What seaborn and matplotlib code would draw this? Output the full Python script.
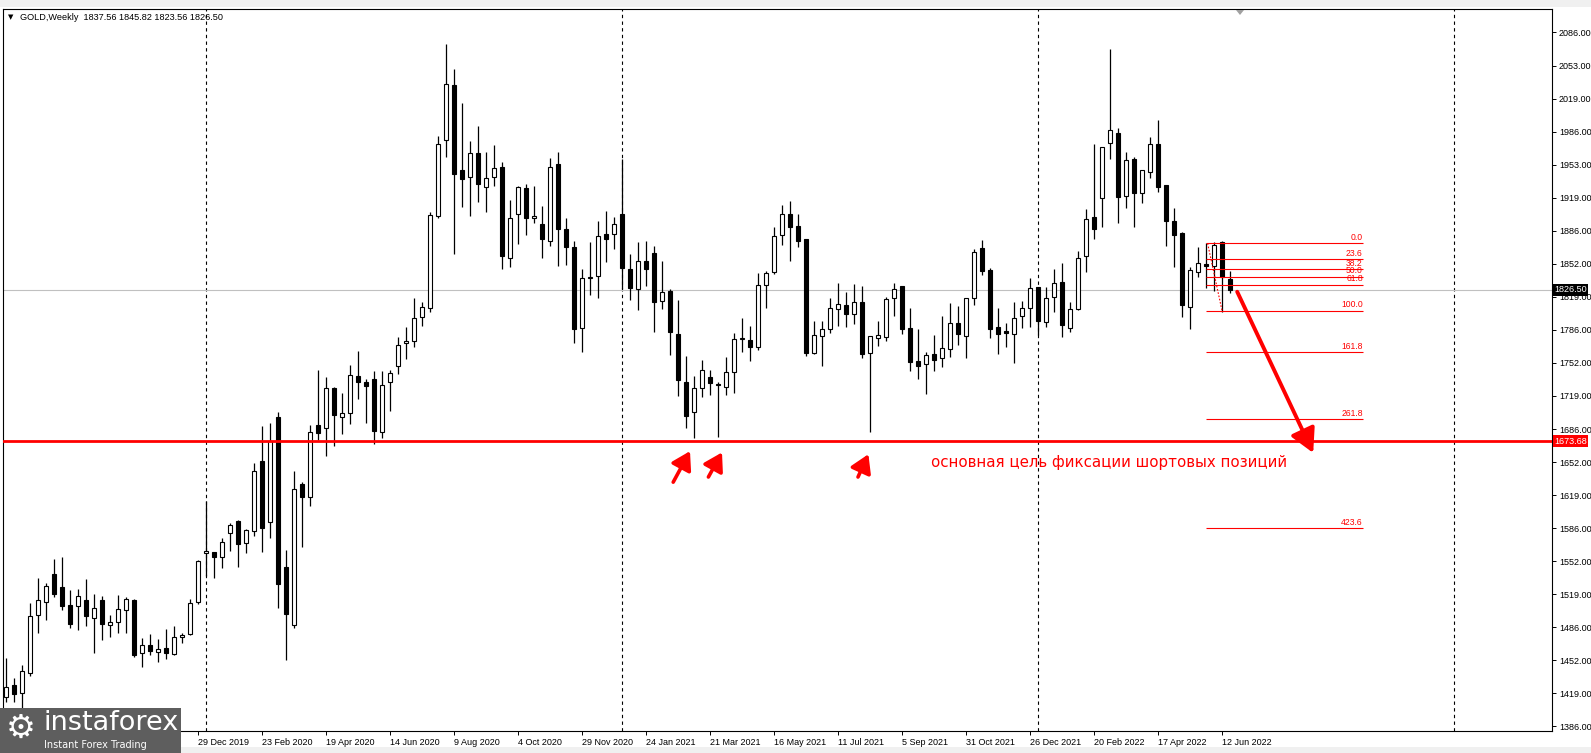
import numpy as np
import pandas as pd
import matplotlib
matplotlib.use("Agg")
import matplotlib.pyplot as plt
from matplotlib.patches import Rectangle, Polygon
import seaborn as sns

# GOLD weekly candles, first bar = week of 14 Jul 2019, last = 19 Jun 2022
opens = [1415.5, 1428, 1419.5, 1440, 1498, 1512, 1540, 1527, 1508.6, 1507.6,
         1514, 1495, 1513.6, 1488, 1491.7, 1503, 1513.6, 1460, 1468, 1461,
         1465, 1459.5, 1476, 1479, 1512, 1560.7, 1561.7, 1557.3, 1581, 1593.3,
         1571.4, 1583, 1654, 1592, 1698.5, 1547, 1488, 1630.6, 1617, 1690,
         1687, 1727, 1698, 1702, 1740, 1733.5, 1736, 1683, 1733, 1750,
         1773, 1775, 1799.4, 1808.4, 1901, 1978, 2033, 1947.3, 1940, 1964,
         1929.8, 1940, 1950, 1859, 1902.6, 1928.8, 1899, 1892.8, 1876, 1953,
         1887.5, 1869.3, 1787.6, 1838, 1840, 1882.7, 1882.4, 1903, 1847.3, 1827,
         1855, 1863.3, 1815.2, 1825.3, 1782, 1733.5, 1703, 1727, 1738, 1731.5,
         1728, 1743.3, 1776.5, 1775.9, 1768.5, 1831.3, 1844, 1881.4, 1902.9, 1890.8,
         1877.7, 1763, 1780.2, 1786.6, 1806.7, 1811, 1801.7, 1813.8, 1763, 1778.2,
         1779, 1817.8, 1830.3, 1788.2, 1754.6, 1751.3, 1761.4, 1757.3, 1767, 1793,
         1780, 1817.8, 1868.6, 1846.4, 1789, 1784.5, 1782.2, 1800, 1807.8, 1829,
         1794.3, 1818.9, 1834, 1787.6, 1806.8, 1860.9, 1899.5, 1919.4, 1974.2, 1984.3,
         1921.4, 1958.4, 1923.7, 1945.6, 1973.2, 1932, 1895.8, 1884, 1809.4, 1844.7,
         1852, 1850.8, 1874.3, 1837.56]
highs = [1455, 1435, 1448, 1511, 1536, 1531, 1555, 1557, 1524, 1525,
         1535, 1520, 1517.6, 1498.5, 1518.7, 1517, 1515, 1475, 1479, 1474,
         1484, 1487, 1480.6, 1515, 1554, 1613, 1562.4, 1576, 1591.6, 1594.3,
         1585, 1651.5, 1689.5, 1692, 1703, 1564, 1644, 1633, 1690, 1746,
         1738, 1728, 1722, 1751, 1765, 1736, 1745, 1745, 1746, 1779,
         1789, 1818, 1814.5, 1905, 1982, 2074.4, 2049, 2015, 1976.5, 1991.7,
         1965.8, 1972.5, 1955, 1917, 1931, 1933, 1931.5, 1911, 1959, 1965,
         1898.5, 1875.7, 1847, 1875, 1896, 1906, 1900, 1958, 1863, 1875,
         1875.7, 1871, 1855.5, 1827, 1816, 1759.7, 1739.6, 1755.7, 1745.6, 1733,
         1758.4, 1783, 1797.7, 1790, 1843, 1845.5, 1889.5, 1912, 1916, 1902.9,
         1878, 1795, 1795, 1818.5, 1833, 1824, 1832, 1830.6, 1779.8, 1795,
         1819.5, 1833.6, 1830.6, 1808.4, 1786.9, 1763.4, 1780.9, 1800, 1812.8, 1810,
         1817.8, 1868, 1876.7, 1848, 1808.4, 1792.6, 1813.8, 1815, 1838, 1829.6,
         1829.6, 1847, 1853.8, 1814.5, 1866, 1907.6, 1973.5, 1970.1, 2069, 1989.3,
         1965, 1960, 1947.3, 1980.2, 1997.7, 1932, 1908.6, 1885, 1849.8, 1870,
         1873.3, 1875, 1875.7, 1845.82]
lows = [1411, 1411, 1400, 1437, 1480, 1493, 1517, 1503, 1485, 1483,
        1487, 1460, 1473, 1476.6, 1480.7, 1480.7, 1456.5, 1445.7, 1458, 1451,
        1454, 1458, 1470.6, 1478, 1510, 1538, 1535.5, 1545.6, 1563.4, 1547,
        1561.4, 1578, 1562.4, 1576, 1505, 1453, 1485, 1567.5, 1608, 1675,
        1659, 1669, 1681, 1691, 1716, 1692.5, 1671, 1677, 1704, 1742,
        1757, 1769, 1790, 1804.4, 1899, 1960, 1863, 1910, 1901, 1915.4,
        1905.3, 1931.5, 1847.5, 1849, 1872.3, 1881.7, 1893.5, 1859, 1871, 1850,
        1851.5, 1773, 1764, 1821, 1818.5, 1854, 1868, 1827, 1816, 1806.5,
        1830.3, 1784.3, 1806.8, 1760.8, 1719.4, 1686.8, 1676.7, 1718.7, 1720.4, 1677.7,
        1720.4, 1722.7, 1763.4, 1755, 1765.8, 1807.8, 1842, 1871.6, 1855, 1869.3,
        1760, 1762, 1750, 1782.5, 1790, 1789.3, 1792, 1758, 1682.7, 1770,
        1775, 1800, 1781.5, 1744.5, 1736.5, 1721, 1744.5, 1749, 1759, 1770.8,
        1758, 1811, 1841.4, 1778, 1761.4, 1769, 1752.3, 1788, 1789.3, 1781,
        1789.3, 1804.4, 1779.2, 1784.2, 1806, 1844, 1877.4, 1890, 1958, 1894,
        1909.3, 1889.5, 1914.3, 1938.9, 1925.4, 1871, 1849.8, 1798.7, 1786.6, 1839.7,
        1828, 1825, 1804.4, 1823.56]
closes = [1425.6, 1418.5, 1442, 1497, 1513.6, 1527.6, 1520, 1507, 1489, 1517.6,
          1497, 1505, 1489, 1491, 1504, 1514.6, 1458, 1468, 1462, 1464,
          1460.5, 1476, 1478, 1511, 1553, 1563, 1557.3, 1571.8, 1589, 1570,
          1584, 1643.7, 1586, 1674, 1529.5, 1499, 1626, 1617, 1683, 1682.4,
          1727, 1700, 1702, 1741, 1733, 1729, 1684, 1730, 1743, 1770.5,
          1775, 1798, 1809.5, 1902, 1974, 2033.7, 1943, 1938.5, 1964, 1932.8,
          1939, 1949, 1861, 1898.5, 1929.8, 1898.5, 1901, 1878, 1950, 1888,
          1870, 1786.6, 1838, 1839.4, 1880.5, 1878, 1892.7, 1848, 1828, 1855,
          1847, 1814, 1824, 1783.6, 1735.5, 1699.5, 1727, 1745.6, 1732, 1730,
          1743.6, 1776.5, 1777.5, 1768.5, 1831.3, 1843, 1880.8, 1902.9, 1890.1, 1876,
          1763, 1780.9, 1786.6, 1807.8, 1811.8, 1801.7, 1813.8, 1762, 1779.8, 1780.9,
          1817.2, 1827.3, 1786.9, 1753.9, 1749.9, 1760.7, 1756, 1767.4, 1792.6, 1782.2,
          1817.8, 1864.6, 1845.7, 1786.9, 1782.2, 1783, 1797.7, 1807.8, 1828, 1795.3,
          1817.9, 1833.6, 1791, 1806.8, 1858.2, 1897.5, 1887.8, 1970.1, 1987.6, 1920.4,
          1957.4, 1924.4, 1947.3, 1973.2, 1930.5, 1896, 1881.7, 1811, 1846.4, 1853.1,
          1850, 1871.6, 1839, 1826.5]

# date labels every 8 bars (the first two sit under the logo in the original)
date_bars = [16, 24, 32, 40, 48, 56, 64, 72, 80, 88, 96, 104, 112, 120, 128, 136, 144, 152]
date_labels = ["3 Nov 2019", "29 Dec 2019", "23 Feb 2020", "19 Apr 2020", "14 Jun 2020",
               "9 Aug 2020", "4 Oct 2020", "29 Nov 2020", "24 Jan 2021", "21 Mar 2021",
               "16 May 2021", "11 Jul 2021", "5 Sep 2021", "31 Oct 2021", "26 Dec 2021",
               "20 Feb 2022", "17 Apr 2022", "12 Jun 2022"]
price_labels = ["1386.00", "1419.00", "1452.00", "1486.00", "1519.00", "1552.00",
                "1586.00", "1619.00", "1652.00", "1686.00", "1719.00", "1752.00",
                "1786.00", "1819.00", "1852.00", "1886.00", "1919.00", "1953.00",
                "1986.00", "2019.00", "2053.00", "2086.00"]
year_start_bars = [25, 77, 129, 181]

fib_levels = [0.0, 23.6, 38.2, 50.0, 61.8, 100.0, 161.8, 261.8, 423.6]
fib_high = 1873.3
fib_low = 1805.5
target_level = 1673.68
last_price = 1826.50

# small arrows under the lows and the big arrow (tail bar, tail price, tip bar, tip price)
small_arrows = [(83.4, 1632.4, 85.5, 1663.7),
                (87.8, 1637.6, 89.5, 1662.4),
                (106.5, 1637.6, 107.8, 1660.6)]
big_arrow = (153.9, 1824.5, 163.4, 1661.9)

df = pd.DataFrame({"open": opens, "high": highs, "low": lows, "close": closes})
df["bar"] = np.arange(len(df))
df["bull"] = df["close"] >= df["open"]
df["body_lo"] = df[["open", "close"]].min(axis=1)
df["body_h"] = (df["close"] - df["open"]).abs().clip(lower=0.9)

sns.set_theme(style="white")
plt.rcParams["font.family"] = ["Liberation Sans", "DejaVu Sans"]

W, H = 1591, 753
fig = plt.figure(figsize=(W / 100, H / 100), dpi=100, facecolor="white")
ax = fig.add_axes([3 / W, (H - 731) / H, (1552 - 3) / W, (731 - 9) / H])
ax.set_facecolor("white")
ax.set_xlim(-0.375, 193.25)
ax.set_ylim(1381.4, 2109.7)

# separators and horizontal lines
for b in year_start_bars:
    ax.axvline(b, color="black", lw=0.8, ls=(0, (3, 3)), zorder=1)
ax.axhline(last_price, color="#c0c0c0", lw=0.8, zorder=1)

# candles
ax.vlines(df["bar"], df["low"], df["high"], color="black", lw=0.9, zorder=2)
ax.bar(df["bar"], df["body_h"], bottom=df["body_lo"], width=0.52,
       color=np.where(df["bull"], "white", "black"), edgecolor="black",
       linewidth=0.8, zorder=3)

ax.axhline(target_level, color="#ff0000", lw=2.0, zorder=4)

# fibonacci grid
rng = fib_high - fib_low
for lv in fib_levels:
    price = fib_high - lv / 100 * rng
    ax.hlines(price, 150, 169.6, color="#ff0000", lw=0.8, zorder=4)
    ax.text(169.6, price + 1.5, f"{lv:.1f}", color="#ff0000", fontsize=6.2,
            ha="right", va="bottom", zorder=5)
ax.plot([150.2, 152], [fib_high, fib_low], color="#ff0000", lw=0.8,
        ls=(0, (1.5, 1.5)), zorder=5)

# arrows
for x0, y0, x1, y1 in small_arrows:
    ax.annotate("", xy=(x1, y1), xytext=(x0, y0),
                arrowprops=dict(arrowstyle="-|>,head_length=0.9,head_width=0.55",
                                color="#ff0000", lw=2.6, shrinkA=0, shrinkB=0),
                zorder=6)
x0, y0, x1, y1 = big_arrow
ax.annotate("", xy=(x1, y1), xytext=(x0, y0),
            arrowprops=dict(arrowstyle="-|>,head_length=1.2,head_width=0.65",
                            color="#ff0000", lw=2.8, shrinkA=0, shrinkB=0),
            zorder=6)

# axes, ticks
for s in ax.spines.values():
    s.set_color("black")
    s.set_linewidth(0.8)
yt = [1386 + k * 100 / 3 for k in range(len(price_labels))]
ax.yaxis.tick_right()
ax.set_yticks(yt)
ax.set_yticklabels(price_labels)
ax.set_xticks(date_bars)
ax.set_xticklabels(date_labels)
ax.tick_params(axis="y", length=3, width=0.7, pad=2, labelsize=6.5, colors="black",
               right=True)
ax.tick_params(axis="x", length=3, width=0.7, pad=2, labelsize=6.5, colors="black",
               bottom=True)
for lbl in ax.get_xticklabels():
    lbl.set_ha("left")

yx = ax.get_yaxis_transform()
ax.text(1.0015, last_price, "1826.50", transform=yx, color="white", fontsize=6.5,
        ha="left", va="center", zorder=10,
        bbox=dict(boxstyle="square,pad=0.15", fc="black", ec="none"))
ax.text(1.0015, target_level, "1673.68", transform=yx, color="white", fontsize=6.5,
        ha="left", va="center", zorder=10,
        bbox=dict(boxstyle="square,pad=0.15", fc="#ff0000", ec="none"))

# annotation text
fig.text(931 / W, 1 - 462 / H, "основная цель фиксации шортовых позиций",
         color="#ff0000", fontsize=10.8, ha="left", va="center",
         family=["DejaVu Sans"])

# header
fig.text(8 / W, 1 - 17 / H, "▼", fontsize=5, ha="left", va="center", color="black",
         family=["DejaVu Sans"])
fig.text(20 / W, 1 - 17 / H, "GOLD,Weekly  1837.56 1845.82 1823.56 1826.50",
         fontsize=6.6, ha="left", va="center", color="black")

# toolbar band, bottom band, shift marker
fig.patches.append(Rectangle((0, 1 - 7 / H), 1, 7 / H, transform=fig.transFigure,
                             fc="#f0f0f0", ec="none", zorder=0))
fig.patches.append(Rectangle((0, 0), 1, 6 / H, transform=fig.transFigure,
                             fc="#f0f0f0", ec="none", zorder=0))
fig.patches.append(Polygon([(1236 / W, 1 - 10 / H), (1244 / W, 1 - 10 / H),
                            (1240 / W, 1 - 15 / H)], closed=True,
                           transform=fig.transFigure, fc="#a0a0a0", ec="none",
                           zorder=5))

# logo
fig.patches.append(Rectangle((0, 0), 181 / W, 45 / H, transform=fig.transFigure,
                             fc="#5e5e5e", ec="none", zorder=20))
fig.text(6 / W, 1 - 728 / H, "⚙", color="white", fontsize=24, ha="left",
         va="center", zorder=21, family=["DejaVu Sans"])
fig.text(43 / W, 1 - 723 / H, "instaforex", color="white", fontsize=19.5,
         ha="left", va="center", zorder=21, family=["DejaVu Sans"])
fig.text(44 / W, 1 - 745 / H, "Instant Forex Trading", color="white", fontsize=7,
         ha="left", va="center", zorder=21, family=["DejaVu Sans"])

fig.savefig("out.png", dpi=100, facecolor="white")
